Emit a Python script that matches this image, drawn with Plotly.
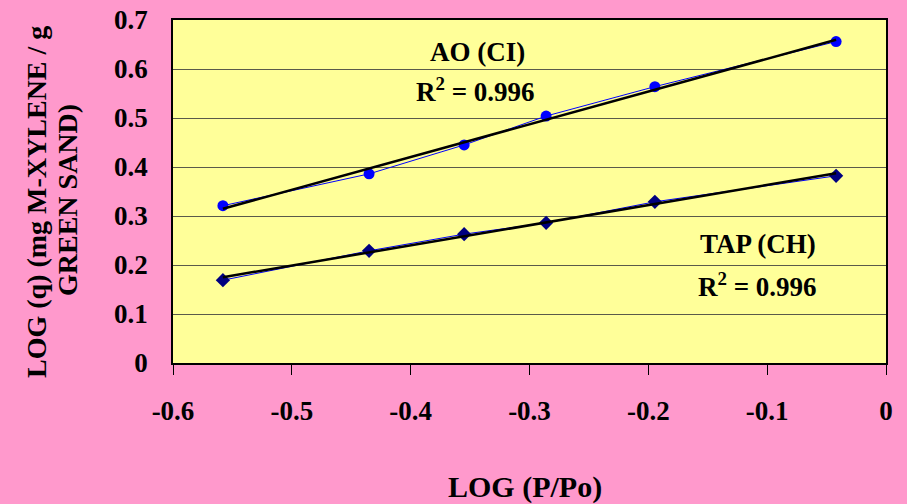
import numpy as np
import plotly.graph_objects as go

# Data
log_p_po = [-0.558, -0.435, -0.355, -0.286, -0.1945, -0.042]
ao_ci = [0.321, 0.386, 0.445, 0.504, 0.564, 0.656]
tap_ch = [0.169, 0.229, 0.263, 0.286, 0.329, 0.382]

x_ticks = [-0.6, -0.5, -0.4, -0.3, -0.2, -0.1, 0]
x_tick_text = ["-0.6", "-0.5", "-0.4", "-0.3", "-0.2", "-0.1", "0"]
y_ticks = [0, 0.1, 0.2, 0.3, 0.4, 0.5, 0.6, 0.7]
y_tick_text = ["0", "0.1", "0.2", "0.3", "0.4", "0.5", "0.6", "0.7"]

FONT = "Liberation Serif"
PINK = "#FF99CC"
YELLOW = "#FFFF99"

x_arr = np.array(log_p_po)


def trend(yvals):
    m, b = np.polyfit(x_arr, np.array(yvals), 1)
    xs = np.array([x_arr.min(), x_arr.max()])
    return xs, m * xs + b


fig = go.Figure()

# data lines
fig.add_trace(go.Scatter(x=log_p_po, y=ao_ci, mode="lines+markers",
                         line=dict(color="#0000FF", width=1),
                         marker=dict(symbol="circle", size=11, color="#0000FF"),
                         showlegend=False))
fig.add_trace(go.Scatter(x=log_p_po, y=tap_ch, mode="lines+markers",
                         line=dict(color="#0000FF", width=1),
                         marker=dict(symbol="diamond", size=11, color="#000080"),
                         showlegend=False))

# linear trendlines
for ser in (ao_ci, tap_ch):
    tx, ty = trend(ser)
    fig.add_trace(go.Scatter(x=tx, y=ty, mode="lines",
                             line=dict(color="black", width=2.5),
                             showlegend=False, hoverinfo="skip"))

tick_font = dict(family=FONT, size=27, color="black", weight="bold")

fig.update_layout(
    width=907, height=504,
    paper_bgcolor=PINK, plot_bgcolor=YELLOW,
    margin=dict(l=173, r=21, t=20, b=141, autoexpand=False),
    font=dict(family=FONT, color="black"),
    xaxis=dict(range=[-0.6, 0], tickvals=x_ticks, ticktext=x_tick_text,
               showgrid=False, zeroline=False, showline=True, linecolor="black",
               linewidth=1.5, mirror=True, ticks="outside", ticklen=10,
               tickcolor="black", tickwidth=1, tickfont=tick_font,
               ticklabelstandoff=13, automargin=False),
    xaxis2=dict(range=[-0.6, 0], tickvals=x_ticks, overlaying="x",
                anchor="y", side="bottom", showgrid=False, zeroline=False,
                showticklabels=False, ticks="inside", ticklen=9,
                tickcolor="black", tickwidth=1, automargin=False),
    yaxis=dict(range=[0, 0.7], tickvals=y_ticks, ticktext=y_tick_text,
               showgrid=True, gridcolor="#5a5a4a", gridwidth=1,
               zeroline=False, showline=True, linecolor="black", linewidth=1.5,
               mirror=True, ticks="", tickfont=tick_font,
               ticklabelstandoff=18, automargin=False),
    yaxis2=dict(range=[0, 0.7], tickvals=y_ticks, overlaying="y",
                anchor="x", side="right", showgrid=False, zeroline=False,
                showticklabels=False, ticks="outside", ticklen=9,
                tickcolor="black", tickwidth=1, automargin=False),
)

ann_font = dict(family=FONT, size=27, color="black", weight="bold")


def px_x(p):
    return (p - 173) / (886 - 173)


def px_y(p):
    return (363 - p) / (363 - 20)


annotations = [
    dict(text="AO (CI)", x=px_x(477), y=px_y(52)),
    dict(text="R<sup>2</sup> = 0.996", x=px_x(475), y=px_y(90)),
    dict(text="TAP (CH)", x=px_x(758), y=px_y(244)),
    dict(text="R<sup>2</sup> = 0.996", x=px_x(757), y=px_y(285)),
]
for a in annotations:
    fig.add_annotation(xref="paper", yref="paper", showarrow=False,
                       xanchor="center", yanchor="middle", font=ann_font, **a)

# axis titles
fig.add_annotation(xref="paper", yref="paper", showarrow=False,
                   text="LOG (P/Po)", x=px_x(525), y=px_y(487),
                   xanchor="center", yanchor="middle",
                   font=dict(family=FONT, size=30, color="black", weight="bold"))
ytitle_font = dict(family=FONT, size=28, color="black", weight="bold")
fig.add_annotation(xref="paper", yref="paper", showarrow=False,
                   text="LOG (q) (mg M-XYLENE / g", x=px_x(37), y=px_y(202),
                   xanchor="center", yanchor="middle", textangle=-90,
                   font=ytitle_font)
fig.add_annotation(xref="paper", yref="paper", showarrow=False,
                   text="GREEN SAND)", x=px_x(68), y=px_y(200),
                   xanchor="center", yanchor="middle", textangle=-90,
                   font=ytitle_font)

fig.write_html("out.html", config={"displayModeBar": False},
               post_script="document.body.style.margin='0';")
